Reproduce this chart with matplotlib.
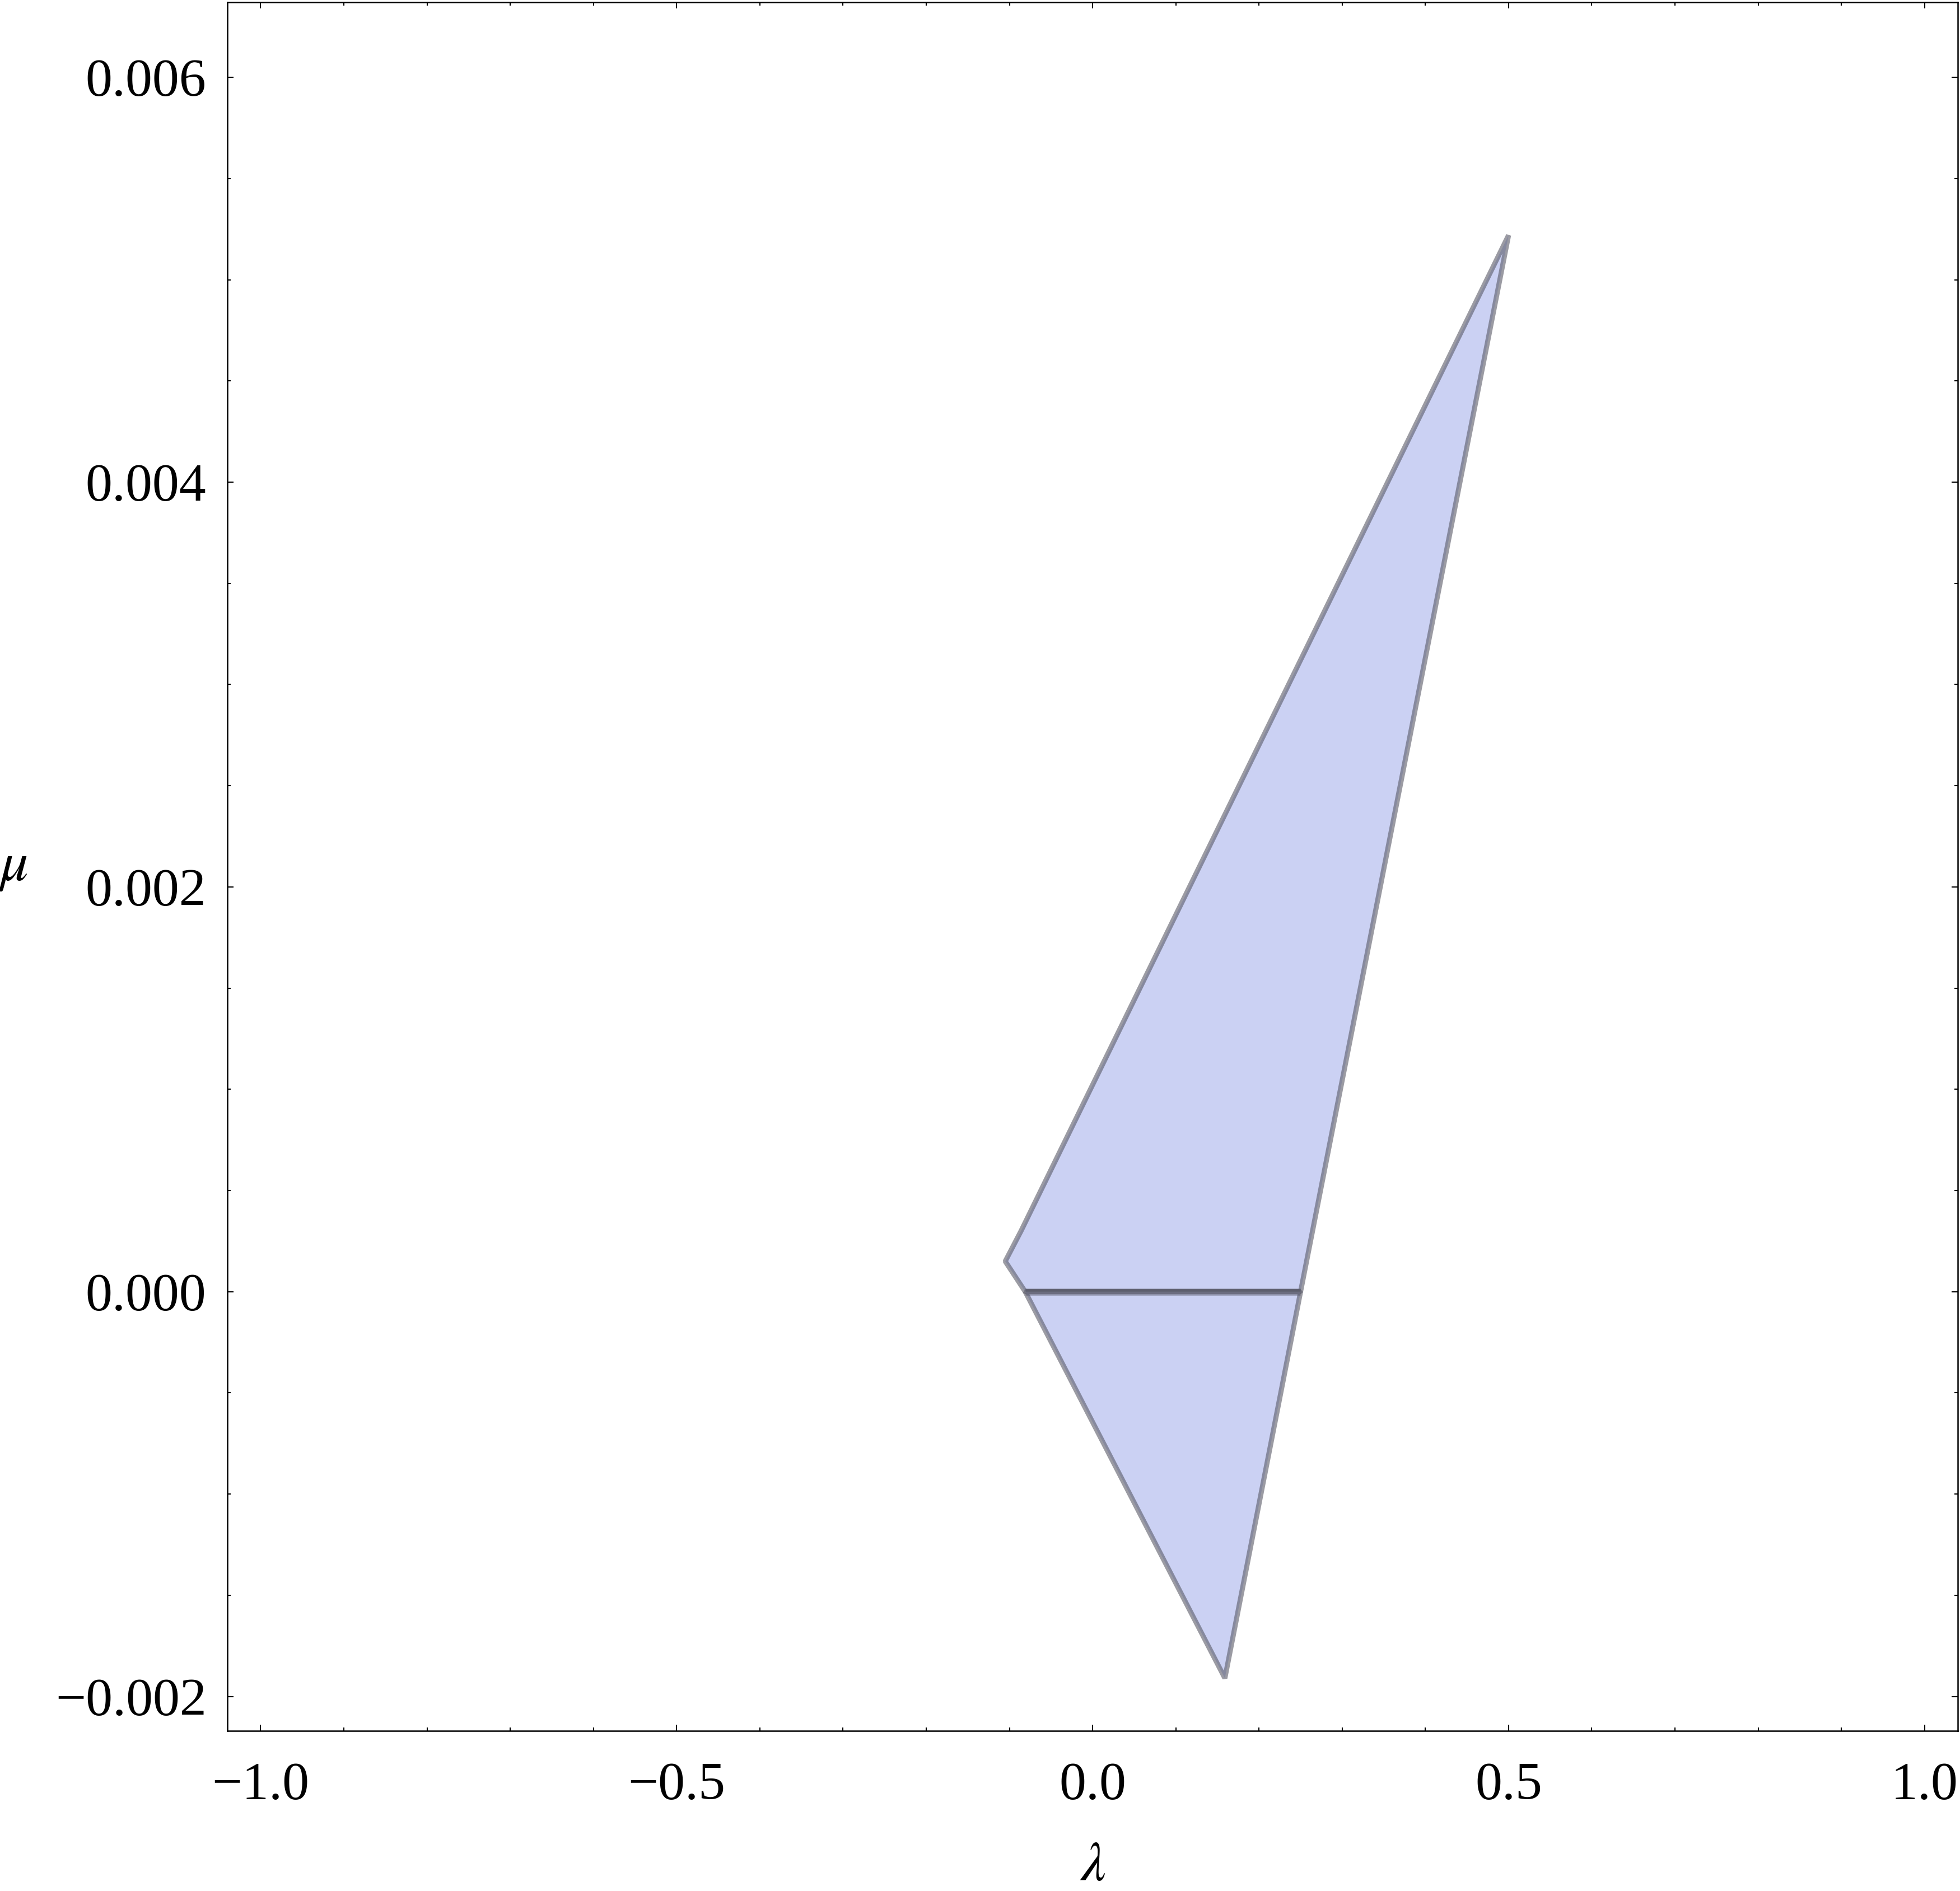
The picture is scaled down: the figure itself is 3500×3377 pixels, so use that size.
import numpy as np
import matplotlib
matplotlib.use("Agg")
from matplotlib import pyplot as plt
from matplotlib.patches import Polygon
from matplotlib.ticker import MultipleLocator

# region boundary (lambda, mu)
upper_lam = [-0.081, -0.105, -0.086, 0.500, 0.250]
upper_mu = [0.0, 0.00015, 0.00030, 0.00522, 0.0]
lower_lam = [-0.081, 0.250, 0.159]
lower_mu = [0.0, 0.0, -0.00191]

xticks = [-1.0, -0.5, 0.0, 0.5, 1.0]
yticks = [-0.002, 0.0, 0.002, 0.004, 0.006]

fill_col = '#cbd1f3'
edge_col = (0.35, 0.35, 0.40, 0.6)

plt.rcParams['font.family'] = ['Liberation Serif', 'DejaVu Serif']
plt.rcParams['mathtext.fontset'] = 'stix'

fig = plt.figure(figsize=(35, 33.77), dpi=100)
ax = fig.add_axes([0.116, 0.0847, 0.8829, 0.914])

for lam, mu in [(upper_lam, upper_mu), (lower_lam, lower_mu)]:
    ax.add_patch(Polygon(np.column_stack([lam, mu]), closed=True,
                         facecolor=fill_col, edgecolor=edge_col, lw=6.5,
                         joinstyle='bevel'))
# shared edge of the two parts along mu = 0 shows darker
ax.plot(lower_lam[:2], lower_mu[:2], color=(0.3, 0.3, 0.36, 0.45), lw=9,
        solid_capstyle='butt')

ax.set_xlim(-1.04, 1.04)
ax.set_ylim(-0.00217, 0.00637)
ax.set_xticks(xticks)
ax.set_yticks(yticks)
ax.set_xticklabels(['\u22121.0', '\u22120.5', '0.0', '0.5', '1.0'])
ax.set_yticklabels(['\u22120.002', '0.000', '0.002', '0.004', '0.006'])
ax.xaxis.set_minor_locator(MultipleLocator(0.1))
ax.yaxis.set_minor_locator(MultipleLocator(0.0005))
ax.tick_params(which='both', direction='in', top=True, right=True,
               labelsize=69, width=1.5)
ax.tick_params(which='major', length=8)
ax.tick_params(which='minor', length=4)
ax.tick_params(axis='x', pad=40)
ax.tick_params(axis='y', pad=27)
for s in ax.spines.values():
    s.set_linewidth(1.8)

ax.set_xlabel(r'$\lambda$', fontsize=72, labelpad=40)
ax.set_ylabel(r'$\mu$', fontsize=72, rotation=0)
ax.yaxis.set_label_coords(-0.124, 0.485)

fig.savefig('out.png', dpi=100)
